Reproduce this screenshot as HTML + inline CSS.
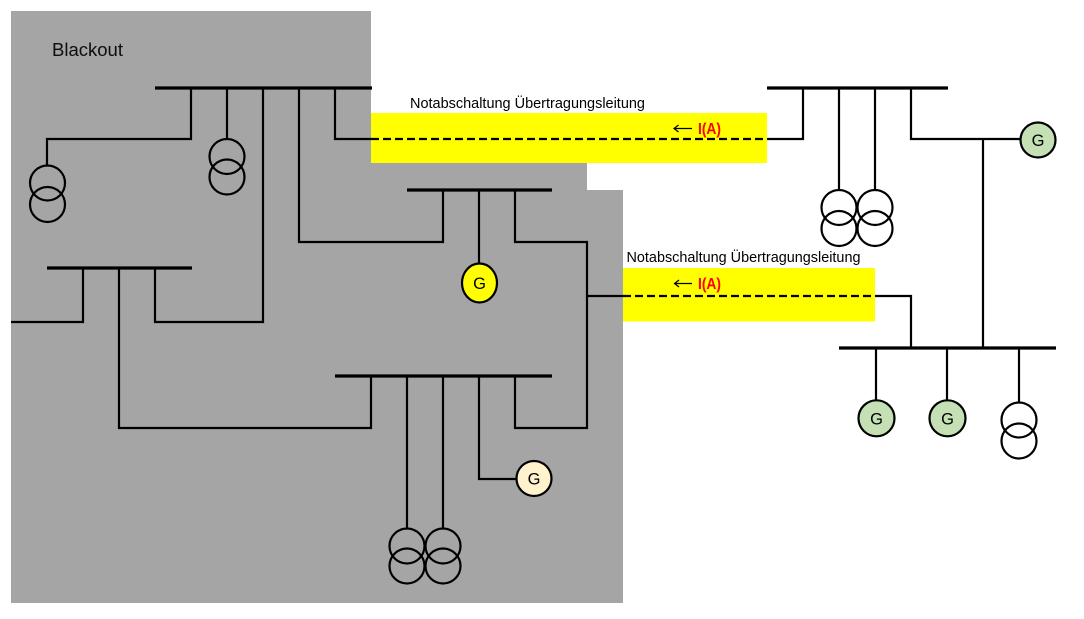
<!DOCTYPE html>
<html>
<head>
<meta charset="utf-8">
<style>
  html, body { margin: 0; padding: 0; background: #ffffff; }
  svg { display: block; }
  text { font-family: "Liberation Sans", Arial, sans-serif; }
</style>
</head>
<body>
<svg width="1084" height="619" viewBox="0 0 1084 619" xmlns="http://www.w3.org/2000/svg">
  <rect x="0" y="0" width="1084" height="619" fill="#ffffff"/>
  <!-- Blackout region -->
  <polygon points="11,11 371,11 371,163 587,163 587,190 623,190 623,603 11,603" fill="#a5a5a5"/>
  <!-- Yellow bands -->
  <rect x="371" y="113" width="396" height="50" fill="#ffff00"/>
  <rect x="623" y="268" width="252" height="53.5" fill="#ffff00"/>

  <text x="52" y="56" font-size="18.5" fill="#0d0d0d" textLength="71" lengthAdjust="spacingAndGlyphs">Blackout</text>

  <g fill="none" stroke="#000" stroke-width="2.2">
    <!-- bus 1 drops -->
    <path d="M191 88 V139 H47 V165"/>
    <path d="M227 88 V138.5"/>
    <path d="M263 88 V322 H155 V268"/>
    <path d="M299 88 V242 H443 V190"/>
    <path d="M335 88 V139 H371"/>
    <path d="M767 139 H803 V88"/>
    <!-- bus 2 drops -->
    <path d="M83 268 V322 H11"/>
    <path d="M119 268 V428 H371 V376"/>
    <!-- bus 3 drops -->
    <path d="M479 190 V263.5"/>
    <path d="M515 190 V242 H587 V428 H515 V376"/>
    <path d="M587 296 H623"/>
    <path d="M875 296 H911 V348"/>
    <!-- bus 4 drops -->
    <path d="M407 376 V528.5"/>
    <path d="M443 376 V528.5"/>
    <path d="M479 376 V479 H516.5"/>
    <!-- bus 5 drops -->
    <path d="M839 88 V190"/>
    <path d="M875 88 V190"/>
    <path d="M911 88 V139 H1020.5"/>
    <path d="M983 139 V348"/>
    <!-- bus 6 drops -->
    <path d="M876 348 V400"/>
    <path d="M947 348 V400"/>
    <path d="M1019 348 V402.5"/>

    <!-- dashed lines -->
    <path d="M371 139 H767" stroke-dasharray="8 4"/>
    <path d="M623 296 H875" stroke-dasharray="8 4"/>

    <!-- transformers -->
    <circle cx="47.5" cy="183" r="17.5"/><circle cx="47.5" cy="204.5" r="17.5"/>
    <circle cx="227" cy="156.5" r="17.5"/><circle cx="227" cy="177" r="17.5"/>
    <circle cx="407" cy="546" r="17.5"/><circle cx="407" cy="566" r="17.5"/>
    <circle cx="443" cy="546" r="17.5"/><circle cx="443" cy="566" r="17.5"/>
    <circle cx="839" cy="207.5" r="17.5"/><circle cx="839" cy="228.5" r="17.5"/>
    <circle cx="875" cy="207.5" r="17.5"/><circle cx="875" cy="228.5" r="17.5"/>
    <circle cx="1019" cy="420" r="17.5"/><circle cx="1019" cy="441" r="17.5"/>
  </g>

  <!-- bus bars -->
  <g stroke="#000" stroke-width="3.2" fill="none">
    <path d="M155 88 H372"/>
    <path d="M47 268 H192"/>
    <path d="M407 190 H552"/>
    <path d="M335 376 H552"/>
    <path d="M767 88 H948"/>
    <path d="M839 348 H1056"/>
  </g>

  <!-- generators -->
  <g stroke="#000" stroke-width="2.2">
    <ellipse cx="479.5" cy="283" rx="17.5" ry="19.5" fill="#ffff00"/>
    <circle cx="534" cy="478.5" r="17.5" fill="#fff2cc"/>
    <circle cx="1038" cy="140" r="17.5" fill="#c5e0b4"/>
    <circle cx="876.5" cy="418.3" r="18" fill="#c5e0b4"/>
    <circle cx="947.5" cy="418.3" r="18" fill="#c5e0b4"/>
  </g>
  <g font-size="16.5" fill="#000" text-anchor="middle">
    <text x="479.5" y="289">G</text>
    <text x="534" y="484.5">G</text>
    <text x="1038" y="146">G</text>
    <text x="876.5" y="424.5">G</text>
    <text x="947.5" y="424.5">G</text>
  </g>

  <!-- labels -->
  <text x="410" y="108" font-size="14.5" fill="#000" textLength="235" lengthAdjust="spacingAndGlyphs">Notabschaltung Übertragungsleitung</text>
  <text x="626.5" y="262" font-size="14.5" fill="#000" textLength="234" lengthAdjust="spacingAndGlyphs">Notabschaltung Übertragungsleitung</text>

  <!-- arrows -->
  <g fill="none" stroke="#000" stroke-width="1.2">
    <path d="M674 128.5 H692 M678.5 125 L674 128.5 L678.5 132"/>
    <path d="M674.5 283.5 H692 M679 280 L674.5 283.5 L679 287"/>
  </g>
  <text x="698" y="134" font-size="16" font-weight="bold" fill="#ff0000" textLength="23" lengthAdjust="spacingAndGlyphs">I(A)</text>
  <text x="698" y="289" font-size="16" font-weight="bold" fill="#ff0000" textLength="23" lengthAdjust="spacingAndGlyphs">I(A)</text>
</svg>
</body>
</html>
